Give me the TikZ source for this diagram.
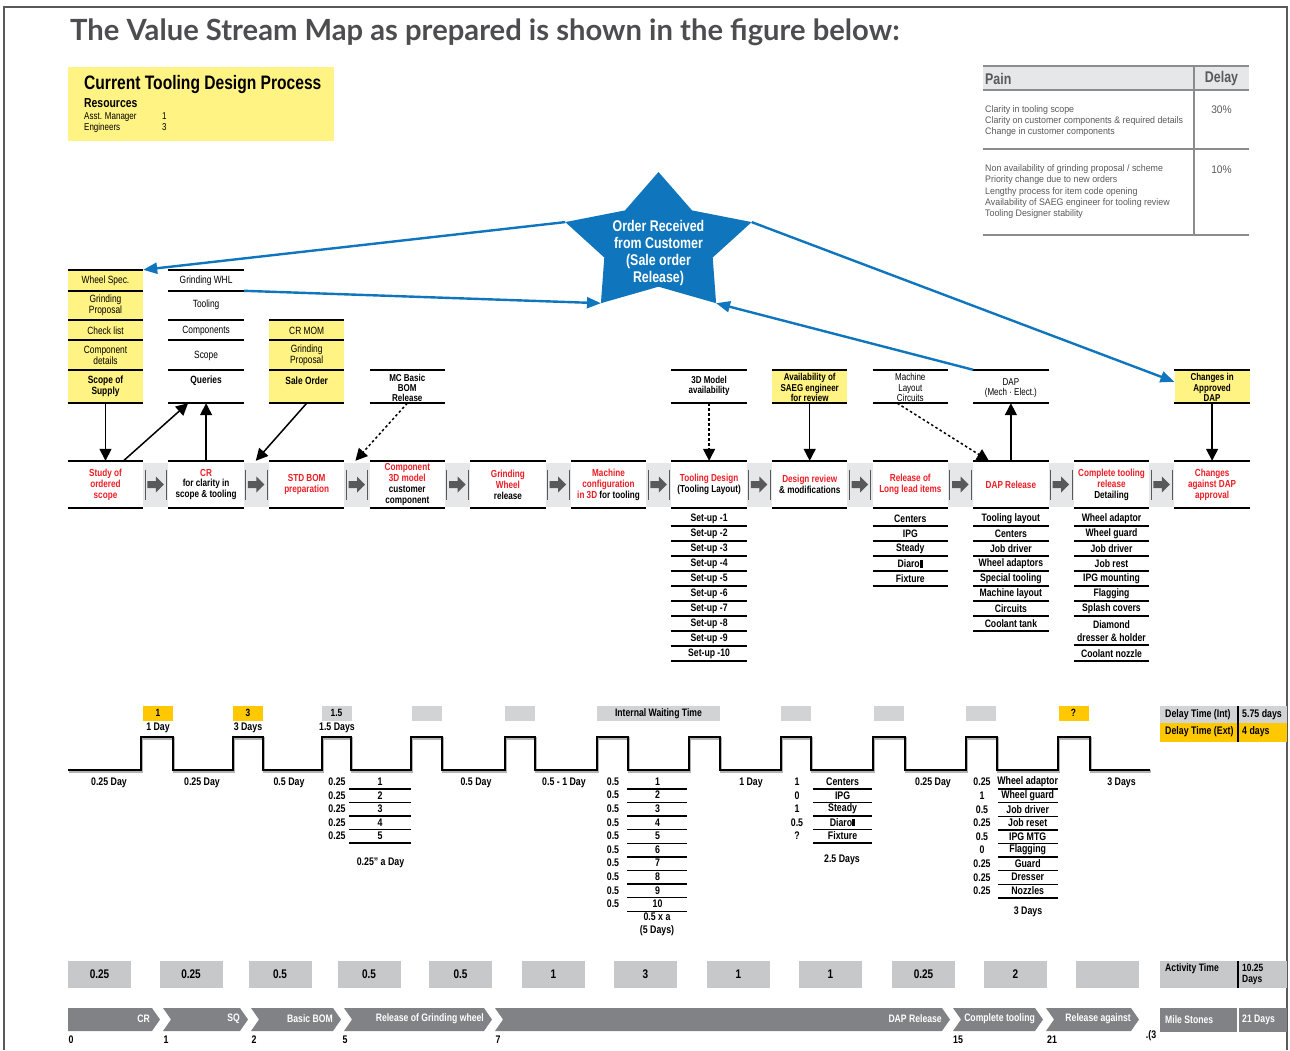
\documentclass[tikz,border=0pt]{standalone}
\usepackage{fontspec}
\setmainfont[FakeStretch=0.8]{Liberation Sans}
\newfontfamily\plainf[FakeStretch=0.93]{Liberation Sans}
\newfontfamily\titlef{Lato}
\usetikzlibrary{arrows.meta,calc}
\definecolor{redt}{HTML}{ED1C24}
\definecolor{yel}{HTML}{FFF383}
\definecolor{gold}{HTML}{FFC800}
\definecolor{lgray}{HTML}{D1D3D4}
\definecolor{band}{HTML}{E6E7E8}
\definecolor{arrg}{HTML}{58595B}
\definecolor{actg}{HTML}{C7C8CA}
\definecolor{msg}{HTML}{808285}
\definecolor{vblue}{HTML}{0F75BC}
\definecolor{titleg}{HTML}{4D4D4F}
\definecolor{framec}{HTML}{58595B}
\definecolor{tablel}{HTML}{8A8C8E}
\newcommand\fs[2]{\fontsize{#1}{#2}\selectfont}
\newcommand\blk{\rule{3.2pt}{7.5pt}}
\begin{document}
\begin{tikzpicture}[x=1pt,y=-1pt,
  thk/.style={line width=2.2pt},
  lst/.style={line width=1.7pt},
  sl/.style={line width=1.4pt},
  tx/.style={inner sep=0pt, align=center, font=\fs{10.5}{11.2}},
  bt/.style={inner sep=0pt, align=center, font=\fs{10.8}{10.8}\bfseries},
  tl/.style={inner sep=0pt, align=center, font=\fs{11}{11.5}\bfseries},
  proc/.style={minimum width=75pt, minimum height=47pt, inner sep=0pt, align=center, font=\fs{10.2}{10.9}\bfseries, text=redt},
  cell/.style={minimum width=75pt, inner sep=0pt},
  arr/.style={line width=1.5pt, -{Triangle[length=12pt,width=12pt]}},
  dotarr/.style={arr, dash pattern=on 2.5pt off 2.5pt},
  barr/.style={draw=vblue, line width=2.4pt, -{Triangle[length=14pt,width=11pt]}},
  wbox/.style={minimum width=30pt, minimum height=14.5pt, inner sep=0pt, font=\fs{10.5}{11}\bfseries},
  pl/.style={anchor=west, inner sep=0pt, font=\plainf\fs{9.5}{11}, text=arrg},
  tbt/.style={anchor=west, inner sep=0pt, font=\fs{11}{11}\bfseries},
  mst/.style={anchor=east, inner sep=0pt, font=\fs{10.8}{11}\bfseries, text=white},
  ]
\useasboundingbox (0,0) rectangle (1290,1050);
\draw[framec, line width=2.5pt] (4,1050) -- (4,7) -- (1287,7) -- (1287,1050);

% title
\node[anchor=base west, inner sep=0pt, font=\titlef\bfseries\fs{29.2}{32}, text=titleg] (title) at (70,40) {The Value Stream Map as prepared is shown in the figure below:};

% yellow header box
\node[fill=yel, minimum width=266pt, minimum height=74pt, inner sep=0pt, anchor=north west] (ybox) at (68,67) {};
\node[anchor=base west, inner sep=0pt, font=\fs{19.5}{20}\bfseries] (ytitle) at (84,89) {Current Tooling Design Process};
\node[anchor=base west, inner sep=0pt, font=\fs{13}{14}\bfseries] (yres) at (84,107) {Resources};
\node[anchor=base west, inner sep=0pt, font=\fs{10}{11}] (yam) at (84,119.5) {Asst. Manager};
\node[anchor=base west, inner sep=0pt, font=\fs{10}{11}] (yamn) at (162,119.5) {1};
\node[anchor=base west, inner sep=0pt, font=\fs{10}{11}] (yen) at (84,130.5) {Engineers};
\node[anchor=base west, inner sep=0pt, font=\fs{10}{11}] (yenn) at (162,130.5) {3};

% pain table
\fill[band] (983,66) rectangle (1249,90);
\foreach \y in {66,90,149,235} \draw[tablel, line width=1.5pt] (983,\y) -- (1249,\y);
\draw[tablel, line width=1.5pt] (1194,66) -- (1194,235);
\node[anchor=west, inner sep=0pt, font=\fs{15.5}{16}\bfseries, text=arrg] (pain) at (985,78.5) {Pain};
\node[inner sep=0pt, font=\fs{15.5}{16}\bfseries, text=arrg] (delay) at (1221.5,78.5) {Delay};
\foreach \t [count=\k, evaluate=\k as \yy using 110+11.2*(\k-1)] in {Clarity in tooling scope, Clarity on customer components \& required details, Change in customer components}
  \node[pl] (pa\k) at (985,\yy) {\t};
\foreach \t [count=\k, evaluate=\k as \yy using 169.3+11.2*(\k-1)] in {Non availability of grinding proposal / scheme, Priority change due to new orders, Lengthy process for item code opening, Availability of SAEG engineer for tooling review, Tooling Designer stability}
  \node[pl] (pb\k) at (985,\yy) {\t};
\node[inner sep=0pt, font=\plainf\fs{11}{12}, text=arrg] (d30) at (1221.5,110) {30\%};
\node[inner sep=0pt, font=\plainf\fs{11}{12}, text=arrg] (d10) at (1221.5,170) {10\%};

% star
\fill[vblue] (658.5,172) -- (692,210.4) -- (751.7,222.1) -- (712.7,257.5) -- (716.1,303.2) -- (658.5,286.7) -- (600.9,303.2) -- (604.3,257.5) -- (565.3,222.1) -- (625,210.4) -- cycle;
\coordinate (stL) at (565.3,222.1);
\coordinate (stR) at (751.7,222.1);
\coordinate (stBL) at (600.9,303.2);
\coordinate (stBR) at (716.1,303.2);
\node[inner sep=0pt, align=center, text=white, font=\fs{15.5}{17}\bfseries] (star) at (658.5,253) {Order Received\\from Customer\\(Sale order\\Release)};

% top stacks
\node[cell, minimum height=133pt, fill=yel] (s1) at (105.5,336.5) {};
\node[cell, minimum height=133pt] (s2) at (206.1,336.5) {};
\node[cell, minimum height=83pt, fill=yel] (s3) at (306.7,361.5) {};
\node[cell, minimum height=33pt] (s4) at (407.3,386.5) {};
\node[cell, minimum height=33pt] (t7) at (709.1,386.5) {};
\node[cell, minimum height=33pt, fill=yel] (t8) at (809.7,386.5) {};
\node[cell, minimum height=33pt] (t9) at (910.3,386.5) {};
\node[cell, minimum height=33pt] (t10) at (1010.9,386.5) {};
\node[cell, minimum height=33pt, fill=yel] (t12) at (1212.1,386.5) {};
\foreach \y in {270,291,320,340,370,403} {
  \draw[thk] (s1.west |- 0,\y) -- (s1.east |- 0,\y);
  \draw[thk] (s2.west |- 0,\y) -- (s2.east |- 0,\y);
}
\foreach \y in {320,340,370,403} \draw[thk] (s3.west |- 0,\y) -- (s3.east |- 0,\y);
\foreach \n in {s4,t7,t8,t9,t10,t12} {
  \draw[thk] (\n.north west) -- (\n.north east);
  \draw[thk] (\n.south west) -- (\n.south east);
}
\node[tx] (s1a) at (105.5,281) {Wheel Spec.};
\node[tx] (s1b) at (105.5,305) {Grinding\\Proposal};
\node[tx] (s1c) at (105.5,330.5) {Check list};
\node[tx] (s1d) at (105.5,355.5) {Component\\details};
\node[bt, font=\fs{10.5}{11.2}\bfseries] (s1e) at (105.5,386) {Scope of\\Supply};
\node[tx] (s2a) at (206.1,281) {Grinding WHL};
\node[tx] (s2b) at (206.1,305) {Tooling};
\node[tx] (s2c) at (206.1,330.5) {Components};
\node[tx] (s2d) at (206.1,355.5) {Scope};
\node[bt, font=\fs{10.5}{11}\bfseries] (s2e) at (206.1,380.5) {Queries};
\node[tx] (s3a) at (306.7,330.5) {CR MOM};
\node[tx] (s3b) at (306.7,355.5) {Grinding\\Proposal};
\node[bt, font=\fs{10.5}{11}\bfseries] (s3c) at (306.7,380.5) {Sale Order};
\node[bt, font=\fs{10}{10}\bfseries] (s4a) at (407.3,387.5) {MC Basic\\BOM\\Release};
\node[bt, font=\fs{10}{10.5}\bfseries] (t7a) at (709.1,386) {3D Model\\availability};
\node[bt, font=\fs{10}{10.3}\bfseries] (t8a) at (809.7,387.5) {Availability of\\SAEG engineer\\for review};
\node[tx, font=\fs{10}{10.3}] (t9a) at (910.3,387.5) {Machine\\Layout\\Circuits};
\node[tx, font=\fs{10}{10.5}] (t10a) at (1010.9,388) {DAP\\(Mech · Elect.)};
\node[bt, font=\fs{10}{10.3}\bfseries] (t12a) at (1212.1,387.5) {Changes in\\Approved\\DAP};

% process boxes
\node[proc] (p1) at (105.5,484.5) {Study of\\ordered\\scope};
\node[proc] (p2) at (206.1,484.5) {CR\\\textcolor{black}{for clarity in}\\\textcolor{black}{scope \& tooling}};
\node[proc] (p3) at (306.7,484.5) {STD BOM\\preparation};
\node[proc] (p4) at (407.3,484.5) {Component\\3D model\\\textcolor{black}{customer}\\\textcolor{black}{component}};
\node[proc] (p5) at (507.9,484.5) {Grinding\\Wheel\\\textcolor{black}{release}};
\node[proc] (p6) at (608.5,484.5) {Machine\\configuration\\in 3D \textcolor{black}{for tooling}};
\node[proc] (p7) at (709.1,484.5) {Tooling Design\\\textcolor{black}{(Tooling Layout)}};
\node[proc] (p8) at (809.7,484.5) {Design review\\\textcolor{black}{\& modifications}};
\node[proc] (p9) at (910.3,484.5) {Release of\\Long lead items};
\node[proc] (p10) at (1010.9,484.5) {DAP Release};
\node[proc] (p11) at (1111.5,484.5) {Complete tooling\\release\\\textcolor{black}{Detailing}};
\node[proc] (p12) at (1212.1,484.5) {Changes\\against DAP\\approval};
\foreach \i [evaluate=\i as \j using int(\i+1)] in {1,...,11} {
  \fill[band] ($(p\i.east)+(0,-22)$) rectangle ($(p\j.west)+(0,22)$);
  \draw[arrg, line width=0.9pt] ($(p\i.east)+(1.8,-15)$) -- ($(p\i.east)+(1.8,15)$);
  \draw[arrg, line width=0.9pt] ($(p\j.west)+(-1.8,-15)$) -- ($(p\j.west)+(-1.8,15)$);
  \coordinate (m\i) at ($(p\i.east)!0.5!(p\j.west)$);
  \fill[arrg] ($(m\i)+(-8.5,-3.5)$) -- ++(8.5,0) -- ++(0,-4.5) -- ++(8,8) -- ++(-8,8) -- ++(0,-4.5) -- ++(-8.5,0) -- cycle;
}
\foreach \i in {1,...,12} {
  \draw[thk] (p\i.north west) -- (p\i.north east);
  \draw[thk] (p\i.south west) -- (p\i.south east);
}

% black connectors
\draw[arr] (s1.south) -- (p1.north);
\draw[arr] ($(p1.north)+(18,0)$) -- ($(s2.south)+(-18,0)$);
\draw[arr] (p2.north) -- (s2.south);
\draw[arr] (s3.south) -- ($(p2.north east)+(12,0)$);
\draw[dotarr] (s4.south) -- ($(p3.north east)+(11,0)$);
\draw[dotarr] (t7.south) -- (p7.north);
\draw[arr] (t8.south) -- (p8.north);
\draw[dotarr] ($(t9.south)+(-13,0)$) -- ($(p10.north)+(-22,0)$);
\draw[arr] (p10.north) -- (t10.south);
\draw[arr] (t12.south) -- (p12.north);

% blue connectors
\draw[barr] (stL) -- (s1.north east);
\draw[barr] ($(s2.north east)+(0,21)$) -- (stBL);
\draw[barr] (t10.north west) -- (stBR);
\draw[barr] (stR) -- ($(t12.north west)+(0,12)$);

% lists under process boxes
\foreach \k [evaluate=\k as \yt using 518.7+15*(\k-1), evaluate=\k as \yl using 526+15*(\k-1)] in {1,...,10} {
  \node[bt] (su\k) at (709.1,\yt) {Set-up -\k};
  \draw[lst] (p7.west |- 0,\yl) -- (p7.east |- 0,\yl);
}
\foreach \t [count=\k, evaluate=\k as \yt using 518.7+15*(\k-1), evaluate=\k as \yl using 526+15*(\k-1)] in {Centers,IPG,Steady,Diaro\blk,Fixture} {
  \node[bt] (la\k) at (910.3,\yt) {\t};
  \draw[lst] (p9.west |- 0,\yl) -- (p9.east |- 0,\yl);
}
\foreach \t [count=\k, evaluate=\k as \yt using 518.7+15*(\k-1), evaluate=\k as \yl using 526+15*(\k-1)] in {Tooling layout,Centers,Job driver,Wheel adaptors,Special tooling,Machine layout,Circuits,Coolant tank} {
  \node[bt] (lb\k) at (1010.9,\yt) {\t};
  \draw[lst] (p10.west |- 0,\yl) -- (p10.east |- 0,\yl);
}
\foreach \t [count=\k, evaluate=\k as \yt using 518.7+15*(\k-1), evaluate=\k as \yl using 526+15*(\k-1)] in {Wheel adaptor,Wheel guard,Job driver,Job rest,IPG mounting,Flagging,Splash covers} {
  \node[bt] (lc\k) at (1111.5,\yt) {\t};
  \draw[lst] (p11.west |- 0,\yl) -- (p11.east |- 0,\yl);
}
\node[bt, font=\fs{10.8}{12.3}\bfseries] (lc8) at (1111.5,631) {Diamond\\dresser \& holder};
\draw[lst] (p11.west |- 0,645) -- (p11.east |- 0,645);
\node[bt] (lc9) at (1111.5,653.7) {Coolant nozzle};
\draw[lst] (p11.west |- 0,661) -- (p11.east |- 0,661);

% timeline wave
\draw[black!30, line width=2.4pt, xshift=1.2pt, yshift=-1.5pt] (68,770) \foreach \a/\b in {141/173,233/263,322/351,411/442,505/535,597/628,689/720,781/811,873/905,966/997,1058/1090} { -- (\a,770) -- (\a,737) -- (\b,737) -- (\b,770) } -- (1150,770);
\draw[black, line width=2.4pt] (68,770) \foreach \a/\b in {141/173,233/263,322/351,411/442,505/535,597/628,689/720,781/811,873/905,966/997,1058/1090} { -- (\a,770) -- (\a,737) -- (\b,737) -- (\b,770) } -- (1150,770);

% waiting boxes
\node[wbox, fill=gold] (w1) at (158,713.3) {1};
\node[wbox, fill=gold] (w2) at (248,713.3) {3};
\node[wbox, fill=lgray] (w3) at (336.5,713.3) {1.5};
\node[wbox, fill=lgray] (w4) at (427,713.3) {};
\node[wbox, fill=lgray] (w5) at (520,713.3) {};
\node[wbox, fill=lgray, minimum width=123pt, font=\fs{10.8}{11}\bfseries] (w6) at (658.5,713.3) {Internal Waiting Time};
\node[wbox, fill=lgray] (w8) at (796,713.3) {};
\node[wbox, fill=lgray] (w9) at (888.5,713.3) {};
\node[wbox, fill=lgray] (w10) at (981,713.3) {};
\node[wbox, fill=gold] (w11) at (1073.5,713.3) {?};
\node[tl] (wd1) at (158,727.5) {1 Day};
\node[tl] (wd2) at (248,727.5) {3 Days};
\node[tl] (wd3) at (337,727.5) {1.5 Days};

% delay table
\fill[lgray] (1160,706) rectangle (1287,723);
\fill[gold] (1160,723) rectangle (1287,742);
\draw[line width=1.5pt] (1238,706) -- (1238,742);
\node[tbt] (dti) at (1165,714.5) {Delay Time (Int)};
\node[tbt] (dtiv) at (1242,714.5) {5.75 days};
\node[tbt] (dte) at (1165,732) {Delay Time (Ext)};
\node[tbt] (dtev) at (1242,732) {4 days};

% labels under wave
\foreach \x/\t [count=\k] in {109/0.25 Day,202/0.25 Day,289/0.5 Day,476/0.5 Day,564/0.5 - 1 Day,751/1 Day,933/0.25 Day,1121.5/3 Days}
  \node[tl] (bl\k) at (\x,782.5) {\t};

% sub-list A
\foreach \k [evaluate=\k as \yt using 782+13.5*(\k-1), evaluate=\k as \yl using 789+13.5*(\k-1)] in {1,...,5} {
  \node[tl] (aa\k) at (337,\yt) {0.25};
  \node[tl] (ab\k) at (380,\yt) {\k};
  \draw[sl] (349,\yl) -- (411,\yl);
}
\node[tl] (aday) at (380.5,863) {0.25" a Day};

% sub-list B
\foreach \k [evaluate=\k as \yt using 781.5+13.6*(\k-1), evaluate=\k as \yl using 788.8+13.6*(\k-1)] in {1,...,10} {
  \node[tl] (ba\k) at (613,\yt) {0.5};
  \node[tl] (bb\k) at (657.5,\yt) {\k};
  \draw[sl] (627,\yl) -- (687,\yl);
}
\node[tl] (bx) at (657,917) {0.5 x a};
\node[tl] (bdays) at (657,931) {(5 Days)};

% sub-list C
\foreach \v/\t [count=\k, evaluate=\k as \yt using 782+13.5*(\k-1), evaluate=\k as \yl using 789+13.5*(\k-1)] in {1/Centers,0/IPG,1/Steady,0.5/Diaro\blk,?/Fixture} {
  \node[tl] (ca\k) at (797,\yt) {\v};
  \node[tl] (cb\k) at (842.6,\yt) {\t};
  \draw[sl] (813,\yl) -- (872,\yl);
}
\node[tl] (cdays) at (842,859.5) {2.5 Days};

% sub-list D
\foreach \v/\t [count=\k, evaluate=\k as \yt using 782+13.6*(\k-1), evaluate=\k as \yl using 789+13.6*(\k-1)] in {0.25/Wheel adaptor,1/Wheel guard,0.5/Job driver,0.25/Job reset,0.5/IPG MTG,0/Flagging,0.25/Guard,0.25/Dresser,0.25/Nozzles} {
  \node[tl] (da\k) at (982,\yt) {\v};
  \node[tl] (db\k) at (1027.7,\yt) {\t};
  \draw[sl] (998,\yl) -- (1058,\yl);
}
\node[tl] (ddays) at (1028,912) {3 Days};

% activity time
\foreach \cx/\v [count=\k] in {99.5/0.25,191/0.25,280/0.5,369/0.5,460.5/0.5,553.5/1,645.5/3,738.5/1,830.5/1,923.5/0.25,1015.5/2,1107.5/{}}
  \node[fill=actg, minimum width=63pt, minimum height=27pt, inner sep=0pt, font=\fs{12.5}{13}\bfseries] (ac\k) at (\cx,974.5) {\v};
\fill[actg] (1160,961) rectangle (1287,988);
\draw[line width=1.2pt] (1238,961) -- (1238,988);
\node[anchor=west, inner sep=0pt, font=\fs{10.8}{11}\bfseries] (actl) at (1165,969) {Activity Time};
\node[anchor=west, inner sep=0pt, align=left, font=\fs{10.5}{11}\bfseries] (actv) at (1242,974.5) {10.25\\Days};

% milestones
\fill[msg] (68,1008) -- (152,1008) -- (160,1019.5) -- (152,1031) -- (68,1031) -- cycle;
\node[mst] (ms1) at (150,1018.5) {CR};
\foreach \a/\b/\t [count=\k] in {163/248/SQ,251/341/Basic BOM,344/492/Release of Grinding wheel,495/950/DAP Release,953/1043/Complete tooling,1046/1139/Release against} {
  \fill[msg] (\a,1008) -- ({\b-8},1008) -- (\b,1019.5) -- ({\b-8},1031) -- (\a,1031) -- ({\a+8},1019.5) -- cycle;
  \node[mst] (msl\k) at ({\b-8},1018.5) {\t};
}
\fill[msg] (1160,1008) rectangle (1287,1032);
\draw[white, line width=1.2pt] (1238,1008) -- (1238,1032);
\node[mst, anchor=west] (msa) at (1165,1020) {Mile Stones};
\node[mst, anchor=west] (msb) at (1242,1020) {21 Days};
\foreach \x/\t [count=\k] in {71/0,166/1,254/2,345/5,498/7,958/15,1052/21}
  \node[tl] (mn\k) at (\x,1040) {\t};
\node[tl] (mnx) at (1151,1036) {.(3};
\end{tikzpicture}
\end{document}
